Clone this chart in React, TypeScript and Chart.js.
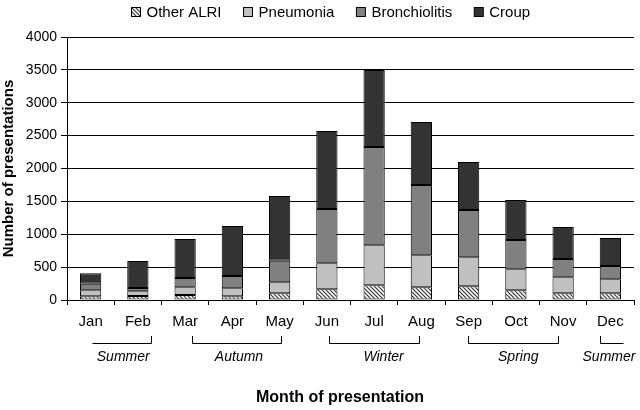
import { useEffect, useRef } from "react";
import { Chart, registerables, type ChartConfiguration, type Plugin } from "chart.js";

Chart.register(...registerables);

const months = ["Jan", "Feb", "Mar", "Apr", "May", "Jun", "Jul", "Aug", "Sep", "Oct", "Nov", "Dec"];
const otherAlri = [56, 60, 76, 56, 101, 162, 223, 193, 208, 147, 101, 101];
const pneumonia = [91, 72, 117, 121, 168, 396, 608, 486, 441, 319, 244, 213];
const bronchiolitis = [100, 50, 142, 188, 329, 826, 1496, 1070, 720, 447, 279, 203];
const croup = [160, 410, 593, 760, 984, 1186, 1171, 958, 730, 608, 486, 426];
const yTicks = [0, 500, 1000, 1500, 2000, 2500, 3000, 3500, 4000];

// season brackets in category units (0 = Jan centre)
const seasonNames = ["Summer", "Autumn", "Winter", "Spring", "Summer"];
const seasonStart = [0.03, 2.15, 5.05, 7.99, 10.77];
const seasonEnd = [1.28, 4.03, 6.96, 9.9, 11.27];
const seasonLabelAt = [0.69, 3.14, 6.2, 9.05, 10.97];
const seasonLeftTick = [false, true, true, true, true];
const seasonRightTick = [true, true, true, true, false];

const FONT = "'Liberation Sans', Arial, sans-serif";

function makeHatch() {
  const c = document.createElement("canvas");
  c.width = 4;
  c.height = 4;
  const g = c.getContext("2d")!;
  g.fillStyle = "#ffffff";
  g.fillRect(0, 0, 4, 4);
  g.strokeStyle = "#333333";
  g.lineWidth = 1.2;
  g.beginPath();
  g.moveTo(-1, -1);
  g.lineTo(5, 5);
  g.moveTo(3, -1);
  g.lineTo(5, 1);
  g.moveTo(-1, 3);
  g.lineTo(1, 5);
  g.stroke();
  return g.createPattern(c, "repeat")!;
}

const extras: Plugin<"bar"> = {
  id: "extras",
  afterDraw(chart) {
    const { ctx } = chart;
    const x = chart.scales.x;
    ctx.save();

    // legend
    ctx.font = `15px ${FONT}`;
    ctx.textBaseline = "middle";
    ctx.textAlign = "left";
    let lx = 131.5;
    const ly = 12;
    chart.data.datasets.forEach((ds) => {
      ctx.fillStyle = ds.backgroundColor as any;
      ctx.fillRect(lx, ly - 4.5, 9, 9);
      ctx.strokeStyle = "#000";
      ctx.lineWidth = 1;
      ctx.strokeRect(lx, ly - 4.5, 9, 9);
      ctx.fillStyle = "#000";
      const label = ds.label ?? "";
      ctx.fillText(label, lx + 15, ly + 1);
      lx += 15 + ctx.measureText(label).width + 22;
    });

    // season brackets
    ctx.strokeStyle = "#000";
    ctx.lineWidth = 1;
    ctx.font = `italic 14px ${FONT}`;
    ctx.textAlign = "center";
    ctx.fillStyle = "#000";
    const lineY = 343.5;
    const tickTop = 336;
    seasonNames.forEach((name, i) => {
      const x0 = Math.round(x.getPixelForValue(seasonStart[i])) + 0.5;
      const x1 = Math.round(x.getPixelForValue(seasonEnd[i])) + 0.5;
      ctx.beginPath();
      if (seasonLeftTick[i]) {
        ctx.moveTo(x0, tickTop);
        ctx.lineTo(x0, lineY);
      } else {
        ctx.moveTo(x0, lineY);
      }
      ctx.lineTo(x1, lineY);
      if (seasonRightTick[i]) ctx.lineTo(x1, tickTop);
      ctx.stroke();
      ctx.fillText(name, x.getPixelForValue(seasonLabelAt[i]), 357);
    });

    // x title
    ctx.font = `bold 16px ${FONT}`;
    ctx.fillText("Month of presentation", 340, 398);
    ctx.restore();
  }
};

export default function App() {
  const canvasRef = useRef<HTMLCanvasElement | null>(null);

  useEffect(() => {
    document.body.style.margin = "0";
    const canvas = canvasRef.current;
    if (!canvas) return;
    const hatch = makeHatch();

    const seg = (label: string, data: number[], fill: any) => ({
      label,
      data,
      backgroundColor: fill,
      borderColor: "#000000",
      borderWidth: 1,
      borderSkipped: false as const,
      categoryPercentage: 1,
      barPercentage: 0.45
    });

    const config: ChartConfiguration<"bar"> = {
      type: "bar",
      data: {
        labels: months,
        datasets: [
          seg("Other ALRI", otherAlri, hatch),
          seg("Pneumonia", pneumonia, "#c0c0c0"),
          seg("Bronchiolitis", bronchiolitis, "#808080"),
          seg("Croup", croup, "#333333")
        ]
      },
      options: {
        responsive: true,
        maintainAspectRatio: false,
        animation: false,
        layout: { padding: { top: 37, right: 6, left: 0, bottom: 0 } },
        plugins: {
          legend: { display: false },
          tooltip: { enabled: false }
        },
        scales: {
          x: {
            stacked: true,
            afterFit: (s) => {
              s.height = 110;
            },
            grid: {
              drawOnChartArea: false,
              drawTicks: true,
              tickLength: 5,
              color: "#000",
              offset: true
            },
            border: { color: "#000", width: 1 },
            ticks: {
              color: "#000",
              font: { family: FONT, size: 15 },
              padding: 8,
              maxRotation: 0,
              autoSkip: false
            }
          },
          y: {
            stacked: true,
            min: 0,
            max: 4000,
            afterFit: (s) => {
              s.width = 67;
            },
            afterBuildTicks: (s) => {
              s.ticks = yTicks.map((v) => ({ value: v }));
            },
            grid: {
              color: "#000",
              lineWidth: 1,
              tickLength: 6
            },
            border: { color: "#000", width: 1 },
            ticks: {
              color: "#000",
              font: { family: FONT, size: 14 },
              padding: 4,
              callback: (v) => String(v)
            },
            title: {
              display: true,
              text: "Number of presentations",
              color: "#000",
              font: { family: FONT, size: 15, weight: "bold" },
              padding: { top: 0, bottom: 0 }
            }
          }
        }
      },
      plugins: [extras]
    };

    const chart = new Chart(canvas, config);
    return () => {
      chart.destroy();
    };
  }, []);

  return (
    <div style={{ position: "relative", width: 640, height: 410 }}>
      <canvas ref={canvasRef} />
    </div>
  );
}
